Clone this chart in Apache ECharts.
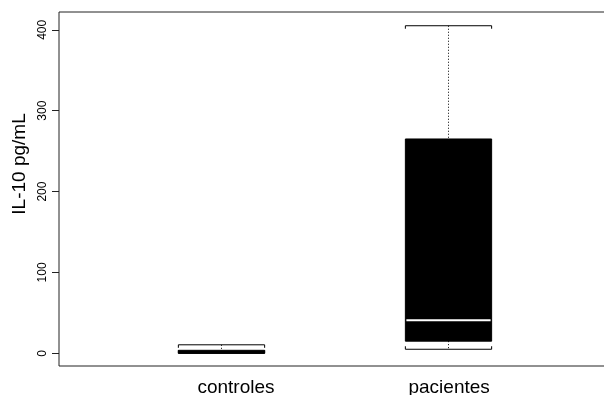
<!DOCTYPE html>
<html>
<head>
<meta charset="utf-8">
<script src="https://cdn.jsdelivr.net/npm/echarts@6/dist/echarts.min.js"></script>
<style>
  html, body { margin: 0; padding: 0; background: #fff; overflow: hidden; }
  #chart { width: 604px; height: 395px; }
</style>
</head>
<body>
<div id="chart"></div>
<script>
// grupos y resumen de cada caja (min, Q1, mediana, Q3, max)
var grupos = ['controles', 'pacientes'];
var posicion = [1, 2];
var minimos = [0, 5];
var q1 = [0, 15];
var medianas = [0, 41];
var q3 = [3, 265];
var maximos = [10.5, 405];

var yTicks = [0, 100, 200, 300, 400];
var xLabelPos = [1.066, 2.005];   // donde caen los rotulos del eje x

var anchoCaja = 0.38;   // en unidades del eje x

window.onload = function () {
    var datos = [];
    for (var i = 0; i < grupos.length; i++) {
        datos.push([posicion[i], minimos[i], q1[i], medianas[i], q3[i], maximos[i]]);
    }
    dibujar(datos);
}

function dibujar(datos) {
    var myChart = echarts.init(document.getElementById('chart'));

    var option = {
        animation: false,
        textStyle: {fontFamily: 'Liberation Sans, Arial, sans-serif'},
        grid: {
            left: 59, top: 12, right: -12, bottom: 29,
            outerBoundsMode: 'none',
            containLabel: false,
            show: true, borderColor: '#222', borderWidth: 1
        },
        xAxis: {
            type: 'value',
            min: 0.2863,
            max: 2.74,
            axisLine: {show: false},
            axisTick: {show: false},
            splitLine: {show: false},
            axisLabel: {
                customValues: xLabelPos,
                margin: 12,
                fontSize: 19,
                color: '#000',
                formatter: function (v, idx) {
                    for (var i = 0; i < xLabelPos.length; i++) {
                        if (Math.abs(xLabelPos[i] - v) < 1e-6) return grupos[i];
                    }
                    return '';
                }
            }
        },
        yAxis: {
            type: 'value',
            min: -15.7,
            max: 422,
            name: 'IL-10 pg/mL',
            nameLocation: 'middle',
            nameRotate: 90,
            nameGap: 30,
            nameTextStyle: {fontSize: 19, color: '#000', padding: [0, 0, 0, 50]},
            axisLine: {show: false},
            splitLine: {show: false},
            axisTick: {
                customValues: yTicks,
                length: 7,
                lineStyle: {color: '#222', width: 1}
            },
            axisLabel: {
                customValues: yTicks,
                rotate: 90,
                margin: 10,
                fontSize: 12,
                color: '#000'
            }
        },
        series: [{
            type: 'custom',
            data: datos,
            renderItem: function (params, api) {
                var x = api.value(0);
                var pMin = api.coord([x, api.value(1)]);
                var pQ1 = api.coord([x, api.value(2)]);
                var pMed = api.coord([x, api.value(3)]);
                var pQ3 = api.coord([x, api.value(4)]);
                var pMax = api.coord([x, api.value(5)]);
                var w = api.size([anchoCaja, 0])[0];
                var cx = Math.round(pMin[0]) + 0.5;
                var l = cx - w / 2, r = cx + w / 2;
                var hijos = [];
                var punteado = {stroke: '#000', fill: 'none', lineWidth: 1, lineDash: [1, 2]};
                var solido = {stroke: '#000', fill: 'none', lineWidth: 1};

                // bigotes punteados
                hijos.push({type: 'line', shape: {x1: cx, y1: pMax[1], x2: cx, y2: pQ3[1]}, style: punteado});
                hijos.push({type: 'line', shape: {x1: cx, y1: pQ1[1], x2: cx, y2: pMin[1]}, style: punteado});
                // topes con pequenas patas
                hijos.push({type: 'polyline', shape: {points: [[l, pMax[1] + 3], [l, pMax[1]], [r, pMax[1]], [r, pMax[1] + 3]]}, style: solido});
                hijos.push({type: 'polyline', shape: {points: [[l, pMin[1] - 3], [l, pMin[1]], [r, pMin[1]], [r, pMin[1] - 3]]}, style: solido});
                // caja negra
                var alto = Math.max(pQ1[1] - pQ3[1], 3);
                hijos.push({type: 'rect', shape: {x: l, y: pQ1[1] - alto, width: w, height: alto}, style: {fill: '#000', stroke: '#000', lineWidth: 1}});
                // mediana blanca
                if (api.value(3) > api.value(2)) {
                    hijos.push({type: 'line', shape: {x1: l + 1, y1: pMed[1], x2: r - 1, y2: pMed[1]}, style: {stroke: '#fff', lineWidth: 2}});
                }
                return {type: 'group', children: hijos};
            }
        }]
    };

    myChart.setOption(option);
}
</script>
</body>
</html>
